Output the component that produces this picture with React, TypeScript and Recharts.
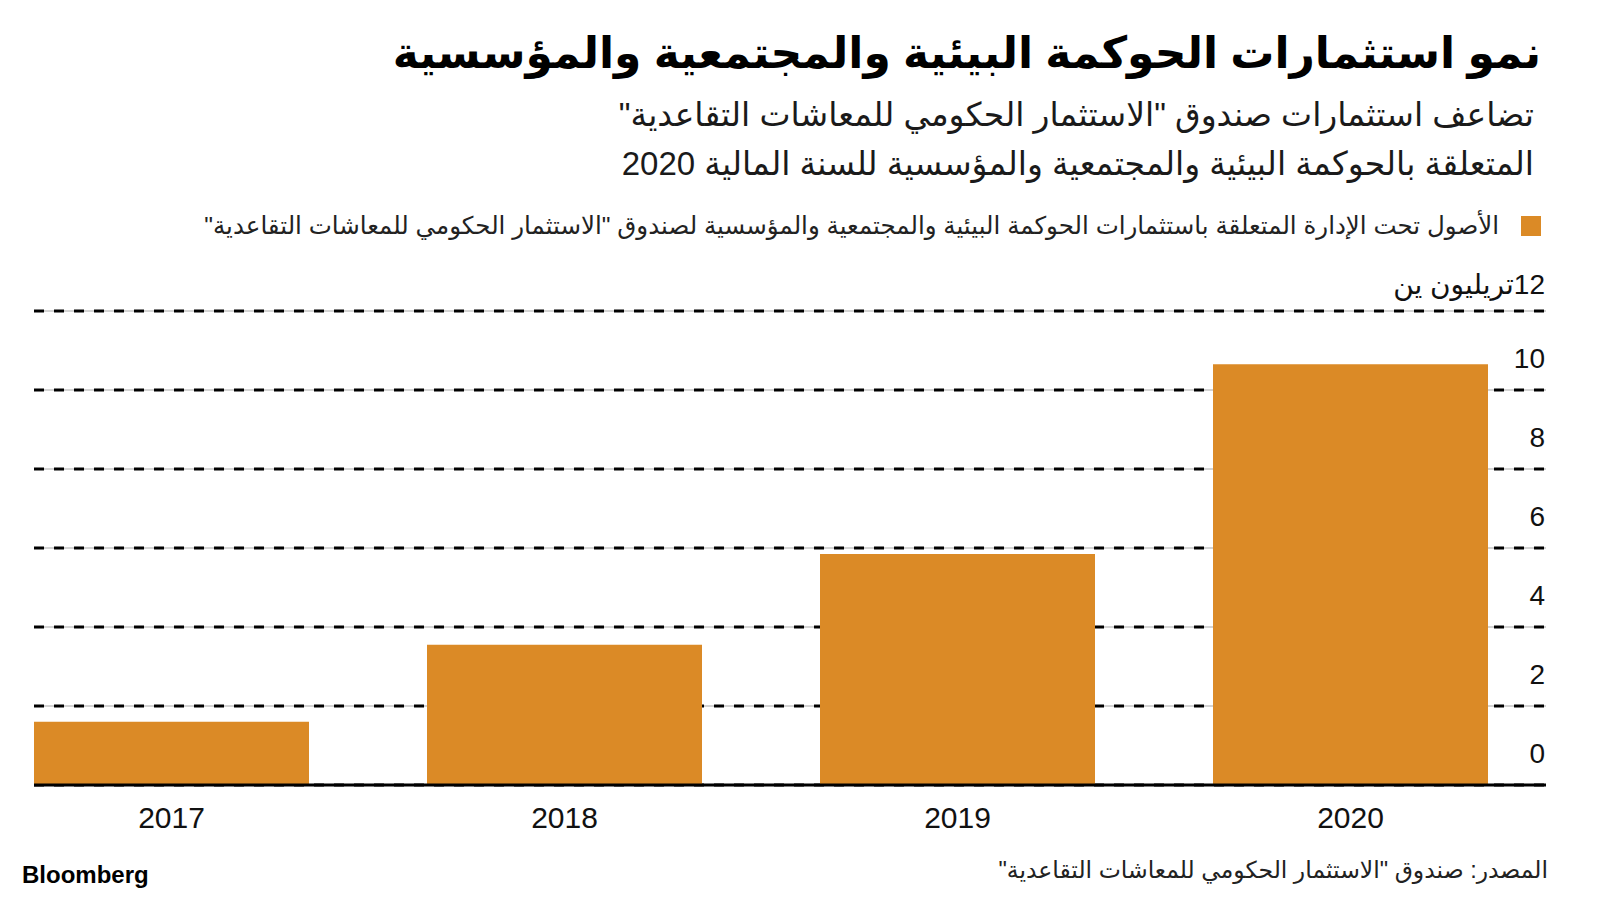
import React from 'react';
import { BarChart, Bar, XAxis, YAxis, CartesianGrid, Legend } from 'recharts';

const years = ['2017', '2018', '2019', '2020'];
const assets = [1.6, 3.55, 5.85, 10.65];
const yTicks = [0, 2, 4, 6, 8, 10, 12];
const topTickUnit = 'تريليون ين';
const seriesName =
  'الأصول تحت الإدارة المتعلقة باستثمارات الحوكمة البيئية والمجتمعية والمؤسسية لصندوق "الاستثمار الحكومي للمعاشات التقاعدية"';
const titleText = 'نمو استثمارات الحوكمة البيئية والمجتمعية والمؤسسية';
const subtitleLines = [
  'تضاعف استثمارات صندوق "الاستثمار الحكومي للمعاشات التقاعدية"',
  'المتعلقة بالحوكمة البيئية والمجتمعية والمؤسسية للسنة المالية 2020',
];
const sourceText = 'المصدر: صندوق "الاستثمار الحكومي للمعاشات التقاعدية"';

const data = years.map((year, i) => ({ year, value: assets[i] }));

const FONT = "'Liberation Sans', 'DejaVu Sans', sans-serif";
const BAR_COLOR = '#DB8A26';
const TEXT = '#111';

const XTick = (props: any) => {
  const { x, y, payload } = props;
  return (
    <text x={x} y={y + 14} dy="0.71em" textAnchor="middle" fontFamily={FONT} fontSize={30} fill={TEXT}>
      {payload.value}
    </text>
  );
};

const YTick = (props: any) => {
  const { x, y, payload } = props;
  const isTop = payload.value === 12;
  const label = isTop ? '\u202B' + payload.value + topTickUnit + '\u202C' : String(payload.value);
  return (
    <text x={x - 1} y={y - (isTop ? 17 : 22)} textAnchor="end" fontFamily={FONT} fontSize={28} fill={TEXT}>
      {label}
    </text>
  );
};

const LegendContent = () => (
  <div
    dir="rtl"
    style={{ display: 'flex', alignItems: 'center', fontFamily: FONT, fontSize: 24.5, color: '#222', whiteSpace: 'nowrap' }}
  >
    <span style={{ width: 20, height: 20, background: BAR_COLOR, display: 'inline-block', marginLeft: 22 }} />
    <span>{seriesName}</span>
  </div>
);

export default function App() {
  return (
    <div style={{ position: 'absolute', left: 0, top: 0, width: 1600, height: 900, background: '#fff', overflow: 'hidden' }}>
      <div
        dir="rtl"
        style={{
          position: 'absolute', right: 59, top: 22, lineHeight: '62px', fontSize: 44, fontWeight: 700,
          fontFamily: FONT, color: '#000', whiteSpace: 'nowrap',
        }}
      >
        {titleText}
      </div>
      <div
        dir="rtl"
        style={{
          position: 'absolute', right: 66, top: 90, lineHeight: '49px', fontSize: 33,
          fontFamily: FONT, color: '#1a1a1a', whiteSpace: 'nowrap', textAlign: 'right',
        }}
      >
        {subtitleLines.map((l) => (
          <div key={l}>{l}</div>
        ))}
      </div>
      <div style={{ position: 'absolute', left: 0, top: 0 }}>
        <BarChart width={1600} height={900} data={data} margin={{ top: 311, right: 0, bottom: 0, left: 34 }}>
          <CartesianGrid vertical={false} stroke="#c4c4c4" strokeWidth={1.5} />
          <CartesianGrid vertical={false} stroke="#000" strokeWidth={3} strokeDasharray="10 10" />
          <XAxis
            dataKey="year"
            padding={{ left: -59, right: -1 }}
            axisLine={{ stroke: '#000', strokeWidth: 3 }}
            tickLine={false}
            tick={<XTick />}
            height={115}
            interval={0}
          />
          <YAxis
            orientation="right"
            width={54}
            domain={[0, 12]}
            ticks={yTicks}
            axisLine={false}
            tickLine={false}
            tickSize={0}
            tickMargin={0}
            tick={<YTick />}
            interval={0}
          />
          <Legend
            content={<LegendContent />}
            verticalAlign="middle"
            layout="horizontal"
            wrapperStyle={{ position: 'absolute', top: 211, right: 59, left: 'auto', width: 'auto' }}
          />
          <Bar dataKey="value" name={seriesName} fill={BAR_COLOR} barSize={275} isAnimationActive={false} />
        </BarChart>
      </div>
      <div
        dir="rtl"
        style={{
          position: 'absolute', right: 52, top: 855, lineHeight: '30px', fontSize: 23.5,
          fontFamily: FONT, color: '#222', whiteSpace: 'nowrap',
        }}
      >
        {sourceText}
      </div>
      <div
        style={{
          position: 'absolute', left: 22, top: 860, lineHeight: '30px', fontSize: 24, fontWeight: 700,
          fontFamily: FONT, color: '#000',
        }}
      >
        Bloomberg
      </div>
    </div>
  );
}
